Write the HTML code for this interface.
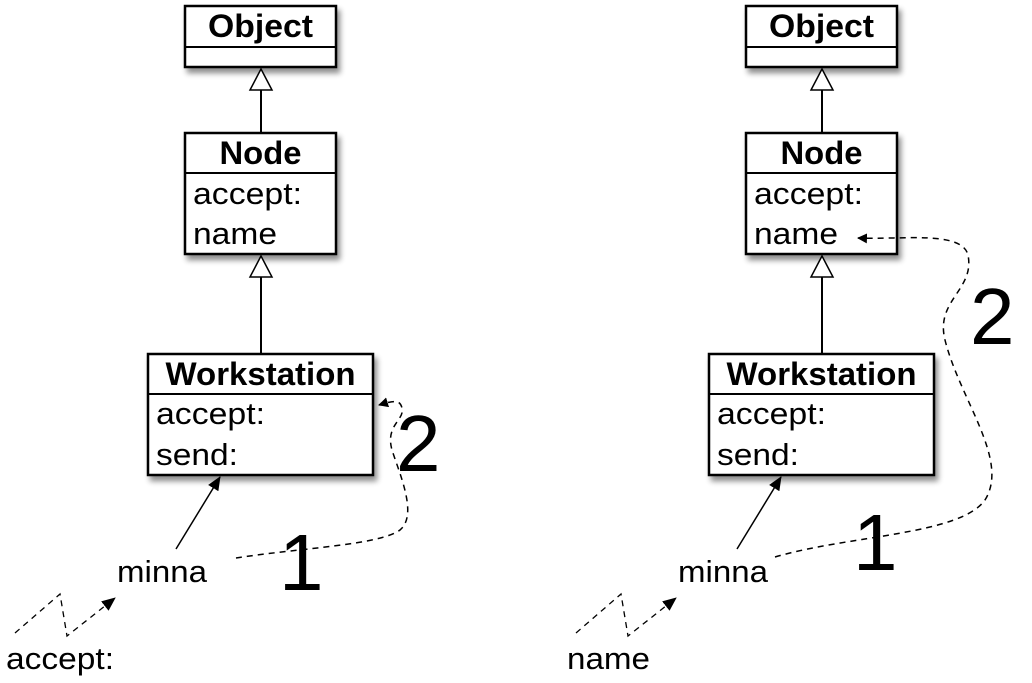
<!DOCTYPE html>
<html><head><meta charset="utf-8"><style>
html,body{margin:0;padding:0;background:#fff;width:1032px;height:683px;overflow:hidden}
svg text{font-family:"Liberation Sans",Arial,sans-serif;fill:#000}
</style></head><body>
<svg width="1032" height="683" viewBox="0 0 1032 683" xmlns="http://www.w3.org/2000/svg">
<defs>
<filter id="sh" x="-20%" y="-20%" width="150%" height="150%"><feGaussianBlur in="SourceAlpha" stdDeviation="3"/><feOffset dx="3" dy="5"/><feComponentTransfer><feFuncA type="linear" slope="0.45"/></feComponentTransfer><feMerge><feMergeNode/><feMergeNode in="SourceGraphic"/></feMerge></filter>
<marker id="ah" markerWidth="10" markerHeight="10" refX="9" refY="5" orient="auto" markerUnits="userSpaceOnUse"><path d="M0,0 L10,5 L0,10 z" fill="#000"/></marker>
<marker id="ah2" markerWidth="14" markerHeight="12" refX="13" refY="6" orient="auto" markerUnits="userSpaceOnUse"><path d="M0,0 L14,6 L0,12 z" fill="#000"/></marker>
</defs>
<g id="L">
<rect x="185" y="6" width="151" height="61" fill="#fff" stroke="#000" stroke-width="2.5" filter="url(#sh)"/>
<line x1="185" y1="47" x2="336" y2="47" stroke="#000" stroke-width="2"/>
<text x="260.5" y="37" font-size="32" font-weight="bold" text-anchor="middle" textLength="105" lengthAdjust="spacingAndGlyphs">Object</text>
<line x1="261" y1="90" x2="261" y2="133" stroke="#000" stroke-width="2"/>
<path d="M261,69 L250,90 L272,90 z" fill="#fff" stroke="#000" stroke-width="1.5"/>
<rect x="185" y="133" width="151" height="121" fill="#fff" stroke="#000" stroke-width="2.5" filter="url(#sh)"/>
<line x1="185" y1="173" x2="336" y2="173" stroke="#000" stroke-width="2"/>
<text x="260.5" y="164" font-size="32" font-weight="bold" text-anchor="middle" textLength="82" lengthAdjust="spacingAndGlyphs">Node</text>
<text x="193" y="204" font-size="31" textLength="109" lengthAdjust="spacingAndGlyphs">accept:</text>
<text x="193" y="244" font-size="31" textLength="84" lengthAdjust="spacingAndGlyphs">name</text>
<line x1="261" y1="277" x2="261" y2="354" stroke="#000" stroke-width="2"/>
<path d="M261,256 L250,277 L272,277 z" fill="#fff" stroke="#000" stroke-width="1.5"/>
<rect x="148" y="354" width="225" height="121" fill="#fff" stroke="#000" stroke-width="2.5" filter="url(#sh)"/>
<line x1="148" y1="394" x2="373" y2="394" stroke="#000" stroke-width="2"/>
<text x="260.5" y="385" font-size="32" font-weight="bold" text-anchor="middle" textLength="190" lengthAdjust="spacingAndGlyphs">Workstation</text>
<text x="156" y="424" font-size="31" textLength="109" lengthAdjust="spacingAndGlyphs">accept:</text>
<text x="156" y="465" font-size="31" textLength="82" lengthAdjust="spacingAndGlyphs">send:</text>
</g>
<use href="#L" transform="translate(561,0)"/>

<line x1="176" y1="549" x2="220" y2="477" stroke="#000" stroke-width="1.5" marker-end="url(#ah2)"/>
<text x="117" y="582" font-size="31" textLength="90" lengthAdjust="spacingAndGlyphs">minna</text>
<path d="M15,633 L60,594 L67,636 L115,598" fill="none" stroke="#000" stroke-width="1.3" stroke-dasharray="6,5" marker-end="url(#ah2)"/>
<text x="6" y="669" font-size="31" textLength="108" lengthAdjust="spacingAndGlyphs">accept:</text>
<path d="M236,558 C300,548 380,545 400,530 C418,515 400,475 392,450 C385,425 405,420 402,408 C400,400 395,400 379,405" fill="none" stroke="#000" stroke-width="1.5" stroke-dasharray="6,5" marker-end="url(#ah)"/>
<text x="279" y="590" font-size="80">1</text>
<text x="396" y="471" font-size="80">2</text>

<line x1="737" y1="549" x2="781" y2="477" stroke="#000" stroke-width="1.5" marker-end="url(#ah2)"/>
<text x="678" y="582" font-size="31" textLength="90" lengthAdjust="spacingAndGlyphs">minna</text>
<path d="M576,633 L621,594 L628,636 L676,598" fill="none" stroke="#000" stroke-width="1.3" stroke-dasharray="6,5" marker-end="url(#ah2)"/>
<text x="567" y="669" font-size="31" textLength="83" lengthAdjust="spacingAndGlyphs">name</text>
<path d="M775,557 C850,535 960,535 985,500 C1010,460 960,400 945,340 C935,300 975,290 968,255 C962,230 900,240 858,238" fill="none" stroke="#000" stroke-width="1.5" stroke-dasharray="6,5" marker-end="url(#ah)"/>
<text x="853" y="570" font-size="80">1</text>
<text x="970" y="344" font-size="80">2</text>
</svg>
</body></html>
